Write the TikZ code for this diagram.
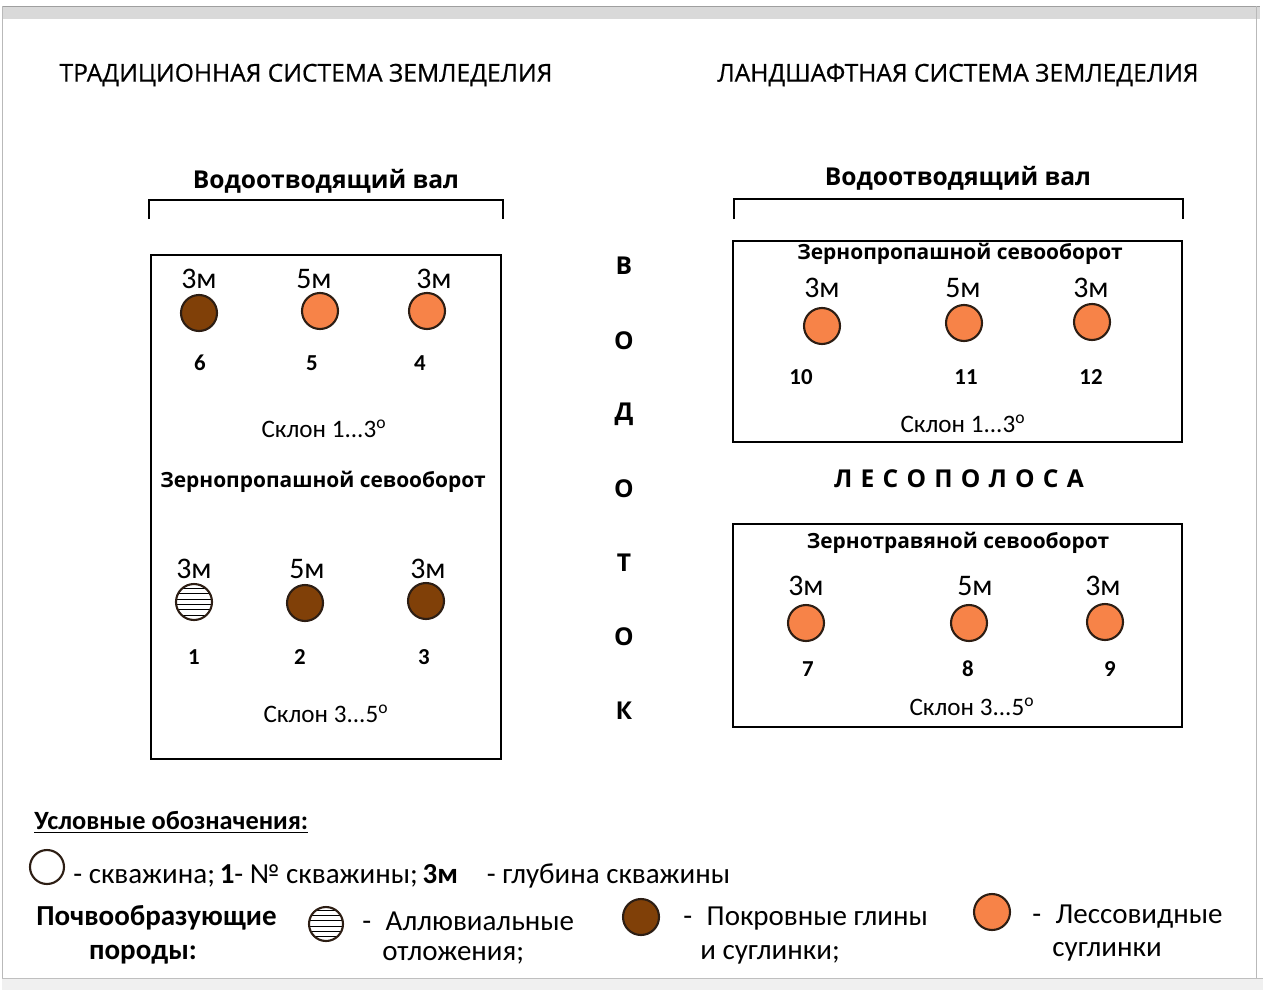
\documentclass[tikz,border=0pt]{standalone}
\usepackage{fontspec}
\setmainfont{Carlito}
\newfontfamily\headfont{Open Sans}
\usetikzlibrary{positioning}
\usetikzlibrary{patterns}
\definecolor{claybrown}{RGB}{128,64,8}
\definecolor{loessorange}{RGB}{247,131,72}
\definecolor{rimcol}{RGB}{45,30,20}
\tikzset{
  well/.style={circle,draw=rimcol,line width=1.2pt,minimum size=0.72cm,inner sep=0pt},
  clay/.style={well,fill=claybrown},
  loess/.style={well,fill=loessorange},
  alluv/.style={well,fill=white,pattern=horizontal lines,pattern color=black},
  depth/.style={font=\fontsize{17}{17}\selectfont,inner sep=0pt},
  wellno/.style={font=\bfseries\fontsize{13}{13}\selectfont},
  slope/.style={font=\fontsize{14.3}{15}\selectfont},
  field/.style={draw,line width=1.6pt},
  rotation/.style={font=\headfont\bfseries\fontsize{11.9}{13}\selectfont},
  heading/.style={font=\headfont\addfontfeature{FakeBold=0.7}\fontsize{14}{14}\selectfont},
  dam/.style={font=\headfont\bfseries\fontsize{14}{15}\selectfont},
  stream/.style={font=\headfont\bfseries\fontsize{14}{15}\selectfont},
  legend/.style={font=\fontsize{16.5}{17}\selectfont,anchor=west,inner sep=0pt},
  legendbf/.style={font=\bfseries\fontsize{16.5}{17}\selectfont,inner sep=0pt}
}
\begin{document}
\begin{tikzpicture}[x=0.02cm,y=-0.02cm]
\useasboundingbox (0,0) rectangle (1263,990);
% frame of the screenshot
\fill[gray!30] (2,6) rectangle (1260,19);
\draw[gray!75,line width=1pt] (2,6.5) -- (1260,6.5);
\draw[gray!55] (2,6) -- (2,990);
\draw[gray!55] (1256,6) -- (1256,978);
\fill[gray!12] (2,978) rectangle (1263,990);
\draw[gray!50] (2,978) -- (1263,978);

% headings
\node[heading] (trad) at (306,75) {ТРАДИЦИОННАЯ СИСТЕМА ЗЕМЛЕДЕЛИЯ};
\node[heading] (land) at (958,75) {ЛАНДШАФТНАЯ СИСТЕМА ЗЕМЛЕДЕЛИЯ};

% water-diverting banks
\node[dam] (damL) at (326,181) {Водоотводящий вал};
\node[dam] (damR) at (958,178) {Водоотводящий вал};
\draw[line width=0.8pt] (149,219) -- (149,200) -- (503,200) -- (503,219);
\draw[line width=0.8pt] (734,219) -- (734,199) -- (1183,199) -- (1183,219);

% traditional field
\draw[field] (151,255) rectangle (501,759);
\node[clay]  (w6) at (199,313) {};
\node[loess] (w5) at (320,311) {};
\node[loess] (w4) at (427,311) {};
\node[depth] at (199,279) {3м};
\node[depth] at (314,279) {5м};
\node[depth] at (434,279) {3м};
\node[wellno] (n6) at (200,363) {6};
\node[wellno] (n5) at (312,363) {5};
\node[wellno] (n4) at (420,363) {4};
\node[slope] (slopeA) at (324,429) {Склон 1...3\textsuperscript{o}};
\node[rotation] (rotA) at (323,482) {Зернопропашной севооборот};
\node[alluv] (w1) at (194,602) {};
\node[clay]  (w2) at (305,603) {};
\node[clay]  (w3) at (426,601) {};
\node[depth] at (194,569) {3м};
\node[depth] at (307,569) {5м};
\node[depth] at (428,569) {3м};
\node[wellno] (n1) at (194,657) {1};
\node[wellno] (n2) at (300,657) {2};
\node[wellno] (n3) at (424,657) {3};
\node[slope] (slopeB) at (326,714) {Склон 3...5\textsuperscript{o}};

% watercourse
\foreach \ch [count=\i] in {В,О,Д,О,Т,О,К}
  \node[stream] (s\i) at (624,{192+74.15*\i}) {\ch};

% landscape fields
\draw[field] (733,241) rectangle (1182,442);
\node[rotation] (rotB) at (960,254) {Зернопропашной севооборот};
\node[loess] (w10) at (822,326) {};
\node[loess] (w11) at (964,323) {};
\node[loess] (w12) at (1092,322) {};
\node[depth] at (822,288) {3м};
\node[depth] at (963,288) {5м};
\node[depth] at (1091,288) {3м};
\node[wellno] (n10) at (801,377) {10};
\node[wellno] (n11) at (966,377) {11};
\node[wellno] (n12) at (1091,377) {12};
\node[slope] (slopeC) at (963,424) {Склон 1...3\textsuperscript{o}};

\node[stream] (belt) at (959,479) {Л\,\,Е\,\,С\,\,О\,\,П\,\,О\,\,Л\,\,О\,\,С\,\,А};

\draw[field] (733,524) rectangle (1182,727);
\node[rotation] (rotC) at (958,543) {Зернотравяной севооборот};
\node[loess] (w7) at (806,623) {};
\node[loess] (w8) at (969,623) {};
\node[loess] (w9) at (1105,622) {};
\node[depth] at (806,586) {3м};
\node[depth] at (975,586) {5м};
\node[depth] at (1103,586) {3м};
\node[wellno] (n7) at (808,669) {7};
\node[wellno] (n8) at (968,669) {8};
\node[wellno] (n9) at (1110,669) {9};
\node[slope] (slopeD) at (972,707) {Склон 3...5\textsuperscript{o}};

% legend
\node[legendbf,anchor=west,font=\bfseries\fontsize{15}{16}\selectfont] (key) at (34,822) {\underline{Условные обозначения:}};
\node[well,fill=white,minimum size=0.68cm] (kw) at (47,867) {};
\node[legend] (kt) at (73,876) {- скважина;\,\textbf{1}- № скважины;\,\textbf{3м}\quad- глубина скважины};
\node[legendbf,anchor=west] (soil) at (36,918) {Почвообразующие};
\node[legendbf] (soil2) at (143,955) {породы:};
\node[alluv,minimum size=0.68cm] (ka) at (326,924) {};
\node[legend] (kat) at (362,921) {-\enspace Аллювиальные};
\node[legend] (kat2) at (382,955) {отложения;};
\node[clay,minimum size=0.72cm] (kc) at (641,917) {};
\node[legend] (kct) at (683,919) {-\enspace Покровные глины};
\node[legend] (kct2) at (700,955) {и суглинки;};
\node[loess,minimum size=0.72cm] (kl) at (992,912) {};
\node[legend] (klt) at (1032,917) {-\enspace Лессовидные};
\node[legend] (klt2) at (1052,952) {суглинки};
\end{tikzpicture}
\end{document}
